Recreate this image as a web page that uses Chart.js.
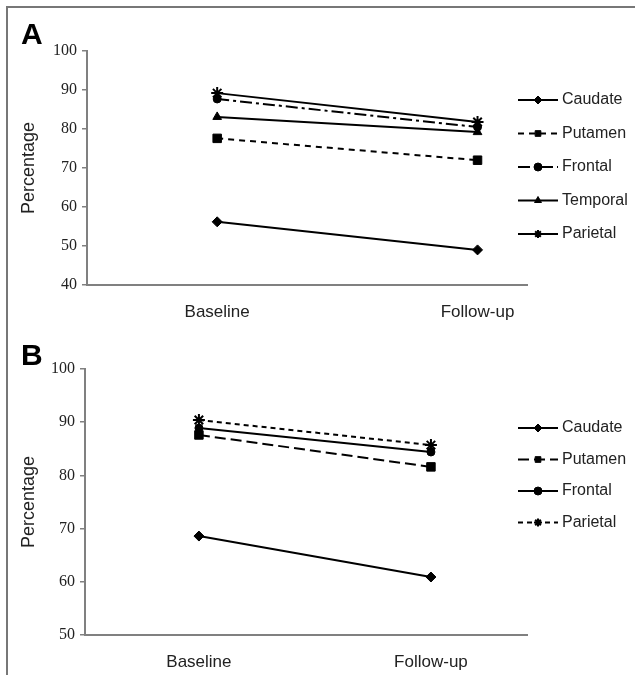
<!DOCTYPE html>
<html>
<head>
<meta charset="utf-8">
<script src="https://cdn.jsdelivr.net/npm/chart.js@4.4.1/dist/chart.umd.min.js"></script>
<style>
  html, body { margin: 0; padding: 0; background: #fff; }
  #frame {
    position: absolute; left: 6px; top: 6px; width: 629px; height: 669px;
    border-top: 2px solid #777; border-left: 2px solid #777;
  }
  .panel { position: absolute; left: 0; width: 635px; }
  .letter {
    position: absolute; font: bold 30px "Liberation Sans", Arial, sans-serif; color: #000;
  }
</style>
</head>
<body>
<div id="frame"></div>
<div class="panel" style="top:0;height:330px"><canvas id="chartA" width="635" height="330"></canvas></div>
<div class="panel" style="top:330px;height:345px"><canvas id="chartB" width="635" height="345"></canvas></div>
<div class="letter" style="left:21px;top:17px">A</div>
<div class="letter" style="left:21px;top:338px">B</div>
<script>
// --- data ---
const timepoints = ['Baseline', 'Follow-up'];

// panel A
const caudateA = [56.2, 49.0];
const putamenA = [77.6, 72.0];
const frontalA = [87.7, 80.5];
const temporalA = [83.1, 79.2];
const parietalA = [89.2, 81.8];
const yTicksA = { min: 40, max: 100, step: 10 };

// panel B
const caudateB = [68.6, 60.9];
const putamenB = [87.6, 81.6];
const frontalB = [88.9, 84.4];
const parietalB = [90.4, 85.7];
const yTicksB = { min: 50, max: 100, step: 10 };

const INK = '#000';
const AXIS = '#808080';

function series(label, values, style) {
  return {
    label,
    data: values.map((v, i) => ({ x: i, y: v })),
    borderColor: INK,
    backgroundColor: INK,
    borderWidth: 2,
    borderDash: style.dash || [],
    pointStyle: style.point,
    pointRadius: style.radius || 5,
    pointBorderWidth: style.point === 'crossRot' || style.point === 'star' ? 2 : 1,
    tension: 0,
    clip: false
  };
}

// draws the legend to the right with line style + marker, like the original
const sideLegend = {
  id: 'sideLegend',
  afterDraw(chart, args, opts) {
    const ctx = chart.ctx;
    ctx.save();
    chart.data.datasets.forEach((ds, i) => {
      const y = opts.y + i * opts.step;
      ctx.strokeStyle = ds.borderColor;
      ctx.lineWidth = 2;
      ctx.setLineDash(ds.borderDash);
      ctx.beginPath();
      ctx.moveTo(opts.x, y);
      ctx.lineTo(opts.x + 40, y);
      ctx.stroke();
      ctx.setLineDash([]);
      ctx.fillStyle = INK;
      ctx.strokeStyle = INK;
      ctx.lineWidth = ds.pointBorderWidth;
      Chart.helpers.drawPoint(ctx, { pointStyle: ds.pointStyle, radius: Math.min(ds.pointRadius, 4), rotation: 0, borderWidth: ds.pointBorderWidth }, opts.x + 20, y);
      ctx.font = '16px "Liberation Sans", Arial, sans-serif';
      ctx.textBaseline = 'middle';
      ctx.textAlign = 'left';
      ctx.fillStyle = '#222';
      ctx.fillText(ds.label, opts.x + 44, y);
    });
    ctx.restore();
  }
};

function makeChart(id, datasets, cfg) {
  return new Chart(document.getElementById(id), {
    type: 'line',
    data: { datasets },
    plugins: [sideLegend],
    options: {
      responsive: false,
      animation: false,
      layout: { padding: { left: 0, top: cfg.top, right: cfg.right, bottom: 0 } },
      plugins: {
        legend: { display: false },
        tooltip: { enabled: false },
        sideLegend: cfg.legend
      },
      scales: {
        x: {
          type: 'linear',
          min: cfg.xMin,
          max: cfg.xMax,
          afterBuildTicks: s => { s.ticks = timepoints.map((t, i) => ({ value: i })); },
          afterFit: s => { s.height = cfg.xHeight; },
          grid: { display: false },
          border: { display: true, color: AXIS, width: 2 },
          ticks: {
            autoSkip: false,
            maxRotation: 0,
            padding: 9,
            color: '#222',
            font: { family: '"Liberation Sans", Arial, sans-serif', size: 17 },
            callback: v => timepoints[v]
          }
        },
        y: {
          min: cfg.y.min,
          max: cfg.y.max,
          afterFit: s => { s.width = cfg.yWidth; },
          grid: { display: true, drawOnChartArea: false, drawTicks: true, tickLength: 5, color: AXIS, lineWidth: 1.5 },
          border: { display: true, color: AXIS, width: 2 },
          ticks: {
            stepSize: cfg.y.step,
            padding: 5,
            color: '#222',
            font: { family: '"Liberation Serif", "Times New Roman", serif', size: 16 }
          },
          title: {
            display: true,
            text: 'Percentage',
            color: '#222',
            padding: { top: 18, bottom: 0 },
            font: { family: '"Liberation Sans", Arial, sans-serif', size: 18 }
          }
        }
      }
    }
  });
}

makeChart('chartA', [
  series('Caudate', caudateA, { point: 'rectRot', radius: 5 }),
  series('Putamen', putamenA, { point: 'rect', radius: 6, dash: [6, 5] }),
  series('Frontal', frontalA, { point: 'circle', radius: 4, dash: [12, 4, 3, 4] }),
  series('Temporal', temporalA, { point: 'triangle', radius: 5 }),
  series('Parietal', parietalA, { point: 'star', radius: 6 })
], {
  top: 51, right: 108, xHeight: 45, yWidth: 87,
  xMin: -0.5, xMax: 1.19,
  y: yTicksA,
  legend: { x: 518, y: 100, step: 33.5 }
});

makeChart('chartB', [
  series('Caudate', caudateB, { point: 'rectRot', radius: 5 }),
  series('Putamen', putamenB, { point: 'rect', radius: 6, dash: [11, 5] }),
  series('Frontal', frontalB, { point: 'circle', radius: 4 }),
  series('Parietal', parietalB, { point: 'star', radius: 6, dash: [5, 4] })
], {
  top: 39, right: 108, xHeight: 40, yWidth: 85,
  xMin: -0.491, xMax: 1.414,
  y: yTicksB,
  legend: { x: 518, y: 98, step: 31.5 }
});
</script>
</body>
</html>
